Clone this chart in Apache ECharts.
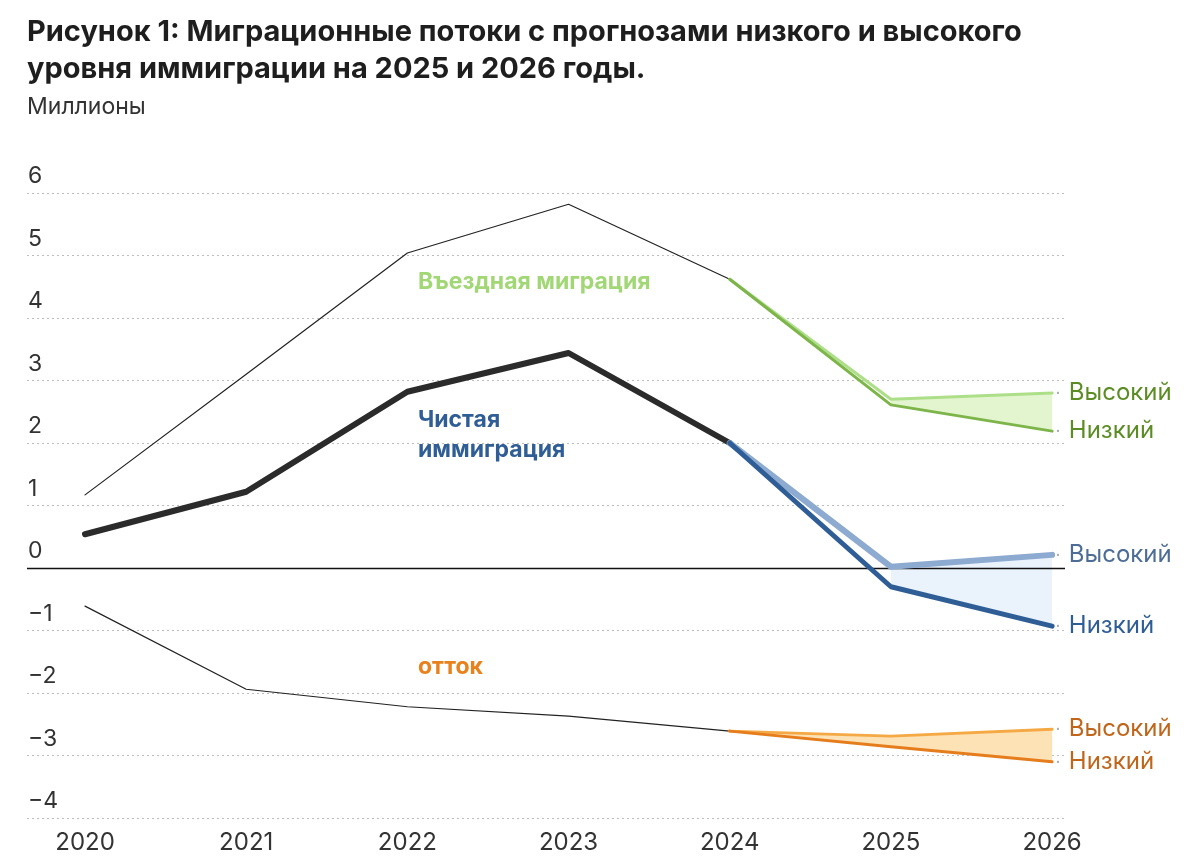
<!DOCTYPE html>
<html lang="ru">
<head>
	<meta charset="UTF-8">
	<title>Миграционные потоки</title>
	<style>
		body { margin:0; background:#fff; }
		#chart { width:1200px; height:868px; }
	</style>
</head>
<body>
	<div id="chart"></div>
<script src="https://cdn.jsdelivr.net/npm/echarts@6/dist/echarts.min.js"></script>
<script>
	// годы и значения (млн)
	var years = [2020, 2021, 2022, 2023, 2024, 2025, 2026];
	var histYears = [2020, 2021, 2022, 2023, 2024];
	var projYears = [2024, 2025, 2026];

	var inflowHist = [1.17, 3.1, 5.04, 5.82, 4.62];
	var inflowHigh = [4.62, 2.70, 2.80];
	var inflowLow  = [4.62, 2.61, 2.19];

	var netHist = [0.54, 1.22, 2.82, 3.44, 2.00];
	var netHigh = [2.00, 0.02, 0.21];
	var netLow  = [2.00, -0.30, -0.93];

	var outHist = [-0.61, -1.94, -2.22, -2.37, -2.61];
	var outHigh = [-2.61, -2.69, -2.58];
	var outLow  = [-2.61, -2.86, -3.10];

	var yTicks = [-4, -3, -2, -1, 0, 1, 2, 3, 4, 5, 6];

	function pairs(xs, ys) {
		var out = [];
		for (var i = 0; i < xs.length; i++) out.push([xs[i], ys[i]]);
		return out;
	}

	function line(name, xs, ys, color, width, z) {
		return {
			name: name, type: 'line', data: pairs(xs, ys), symbol: 'none', z: z,
			lineStyle: { color: color, width: width, cap: 'round', join: 'round' }
		};
	}

	function projLine(name, ys, color, width, labelColor, z) {
		var s = line(name, projYears, ys, color, width, z);
		s.endLabel = {
			show: true, formatter: '{d|•} ' + name, color: labelColor, fontSize: 24, distance: 4, fontFamily: 'Inter',
			rich: { d: { color: '#aaa', fontSize: 7, padding: [0, 2, 0, 0] } }
		};
		return s;
	}

	// полоса между низким и высоким вариантом
	function band(lo, hi, color, start) {
		var data = [];
		for (var i = start; i < projYears.length - 1; i++) {
			data.push([projYears[i], projYears[i + 1], lo[i], hi[i], lo[i + 1], hi[i + 1]]);
		}
		return {
			type: 'custom', silent: true, z: 1, data: data,
			encode: { x: [0, 1], y: [2, 3, 4, 5] },
			renderItem: function (params, api) {
				var lo0 = api.coord([api.value(0), api.value(2)]);
				var hi0 = api.coord([api.value(0), api.value(3)]);
				var lo1 = api.coord([api.value(1), api.value(4)]);
				var hi1 = api.coord([api.value(1), api.value(5)]);
				return { type: 'polygon', shape: { points: [hi0, hi1, lo1, lo0] }, style: { fill: color } };
			}
		};
	}

	var chart = echarts.init(document.getElementById('chart'));
	var option = {
		animation: false,
		textStyle: { fontFamily: 'Inter' },
		title: [{
			text: 'Рисунок 1: Миграционные потоки с прогнозами низкого и высокого\nуровня иммиграции на 2025 и 2026 годы.',
			left: 27, top: 14, padding: 0,
			textStyle: { fontSize: 29, fontWeight: 'bold', color: '#1e1e1e', lineHeight: 37, fontFamily: 'Inter' }
		}, {
			text: 'Миллионы', left: 27, top: 96, padding: 0,
			textStyle: { fontSize: 23, fontWeight: 'normal', color: '#333', fontFamily: 'Inter' }
		}],
		grid: { left: 27, right: 135, top: 193, bottom: 50 },
		xAxis: {
			type: 'value', min: 2019.64, max: 2026.08,
			axisLine: { show: false }, axisTick: { show: false }, splitLine: { show: false },
			axisLabel: { customValues: years, fontSize: 24, color: '#333', margin: 13, formatter: function (v) { return String(v); } }
		},
		yAxis: {
			type: 'value', min: -4, max: 6, interval: 1,
			axisLine: { show: false }, axisTick: { show: false },
			splitLine: { lineStyle: { color: '#bdbdbd', type: [2, 3], width: 1 } },
			axisLabel: {
				inside: true, margin: 1, fontSize: 23, color: '#333', verticalAlign: 'bottom', padding: [0, 0, 5, 0],
				customValues: yTicks,
				formatter: function (v) { return String(v).replace('-', '−'); }
			}
		},
		graphic: [
			{ type: 'text', left: 418, top: 271, style: { text: 'Въездная миграция', fill: '#a2d776', font: 'bold 23px Inter' } },
			{ type: 'text', left: 418, top: 405, style: { text: 'Чистая\nиммиграция', fill: '#2f5d95', font: 'bold 23px Inter', lineHeight: 30 } },
			{ type: 'text', left: 418, top: 656, style: { text: 'отток', fill: '#e8821c', font: 'bold 23px Inter' } }
		],
		series: [
			band(inflowLow, inflowHigh, '#e2f5cf', 1),
			band(netLow, netHigh, '#eaf2fb', 1),
			band(outLow, outHigh, '#fde2b6', 0),
			{
				type: 'line', data: [], silent: true,
				markLine: {
					symbol: 'none', label: { show: false }, silent: true,
					lineStyle: { color: '#111', type: 'solid', width: 1.3 },
					data: [{ yAxis: 0 }]
				}
			},
			line('Въездная', histYears, inflowHist, '#222', 1.2, 3),
			projLine('Высокий', inflowHigh, '#addf88', 3, '#5c8d24', 4),
			projLine('Низкий', inflowLow, '#7db54a', 3, '#5c8d24', 5),
			line('Отток', histYears, outHist, '#222', 1.2, 3),
			projLine('Высокий', outHigh, '#f5a945', 3, '#c0661b', 4),
			projLine('Низкий', outLow, '#e57d1d', 3, '#c0661b', 5),
			line('Чистая', histYears, netHist, '#2b2b2b', 6, 6),
			projLine('Высокий', netHigh, '#8daad0', 6, '#4d6d96', 6),
			projLine('Низкий', netLow, '#2f5d95', 5, '#2f5d95', 7)
		]
	};
	chart.setOption(option);
</script>
</body>
</html>
